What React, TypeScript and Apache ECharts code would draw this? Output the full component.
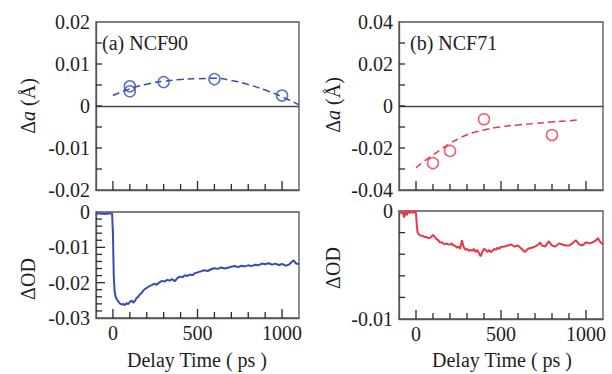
import React, { useEffect, useRef } from "react";
import * as echarts from "echarts";

// ---------- data ----------
// (a) NCF90 lattice change
const ncf90PtsT = [100, 100, 300, 600, 1000];
const ncf90PtsV = [0.0047, 0.0035, 0.0057, 0.0064, 0.0025];
const ncf90FitT = [0, 100, 200, 300, 400, 500, 600, 700, 800, 900, 1000, 1100];
const ncf90FitV = [0.0025, 0.0041, 0.0052, 0.0059, 0.0063, 0.0065, 0.0066, 0.0061, 0.0051, 0.0038, 0.0022, 0.0003];

// (b) NCF71 lattice change
const ncf71PtsT = [100, 200, 400, 800];
const ncf71PtsV = [-0.0272, -0.0214, -0.0063, -0.0138];
const ncf71FitT = [0, 50, 100, 150, 200, 250, 300, 350, 400, 500, 600, 700, 800, 900, 950];
const ncf71FitV = [-0.0294, -0.0262, -0.0233, -0.0205, -0.0178, -0.0156, -0.0137, -0.0124, -0.0114, -0.0099, -0.009, -0.0083, -0.0076, -0.007, -0.0067];

// NCF90 ΔOD trace (values in 1e-4)
const odA_t = [-100, -90, -80, -70, -60, -50, -40, -30, -20, -10, -5, 0, 5, 10, 15, 20, 30, 40, 50, 60, 70, 80, 90, 100, 110, 120, 130, 140, 150, 160, 170, 180, 190, 200, 215, 230, 245, 260, 275, 290, 305, 320, 335, 350, 365, 380, 395, 410, 425, 440, 455, 470, 485, 500, 520, 540, 560, 580, 600, 620, 640, 660, 680, 700, 720, 740, 760, 780, 800, 820, 840, 860, 880, 900, 920, 940, 960, 980, 1000, 1020, 1040, 1060, 1070, 1080, 1100];
const odA_v = [-4, -5, -3, -5, -4, -6, -4, -5, -3, -5, -4, -60, -180, -225, -238, -244, -252, -258, -262, -260, -264, -258, -261, -255, -250, -257, -252, -243, -240, -233, -229, -222, -218, -215, -210, -207, -203, -206, -199, -195, -197, -192, -194, -190, -196, -188, -183, -185, -179, -181, -177, -179, -173, -171, -168, -165, -167, -162, -159, -161, -157, -160, -158, -155, -153, -156, -152, -154, -151, -153, -149, -151, -146, -148, -145, -149, -146, -150, -147, -152, -149, -140, -137, -145, -148];

// NCF71 ΔOD trace (values in 1e-4)
const odB_t = [-100, -95, -90, -85, -80, -75, -70, -65, -60, -55, -50, -45, -40, -35, -30, -25, -20, -15, -10, -5, 0, 5, 10, 20, 30, 40, 50, 60, 70, 80, 90, 100, 110, 120, 130, 140, 150, 160, 170, 180, 190, 200, 210, 220, 230, 240, 250, 260, 270, 280, 290, 300, 310, 320, 330, 340, 350, 360, 370, 380, 390, 400, 410, 420, 430, 440, 450, 460, 470, 480, 490, 500, 520, 540, 560, 580, 600, 620, 640, 660, 680, 700, 720, 730, 740, 760, 780, 800, 820, 840, 860, 880, 900, 920, 940, 960, 980, 1000, 1020, 1040, 1060, 1070, 1080, 1100];
const odB_v = [-1, 0, -2, -1, -3, -1, -6, -2, -1, -4, -2, 0, -1, -2, -1, 0, -1, -2, -1, 0, -2, -14, -20, -22, -23, -23, -24, -24, -25, -25, -24, -22, -24, -26, -27, -29, -29, -30, -31, -30, -31, -31, -30, -32, -32, -34, -33, -35, -27, -33, -36, -35, -37, -36, -37, -35, -38, -36, -39, -42, -38, -35, -36, -38, -36, -38, -37, -35, -36, -34, -35, -33, -33, -32, -31, -33, -32, -35, -38, -35, -34, -33, -31, -29, -32, -33, -28, -32, -33, -30, -31, -32, -32, -30, -27, -31, -32, -29, -30, -29, -27, -25, -28, -31];

// tick labels
const xTickLabels = [0, 500, 1000];
const yLabelsTL = [-0.02, -0.01, 0, 0.01, 0.02];
const yLabelsTR = [-0.04, -0.02, 0, 0.02, 0.04];
const yLabelsBL = [-0.03, -0.02, -0.01, 0];
const yLabelsBR = [-0.01, 0];

// tick mark positions
const xTicks = [0, 100, 200, 300, 400, 500, 600, 700, 800, 900, 1000];
const yTicksTL = [-0.015, -0.01, -0.005, 0, 0.005, 0.01, 0.015];
const yTicksTR = [-0.03, -0.02, -0.01, 0, 0.01, 0.02, 0.03];
const yTicksBL = [-0.028, -0.026, -0.024, -0.022, -0.02, -0.018, -0.016, -0.014, -0.012, -0.01, -0.008, -0.006, -0.004, -0.002];
const yTicksBR = [-0.008, -0.006, -0.004, -0.002];

const BLUE = "#3a4cb2";
const RED = "#e8384a";
const FONT = "Liberation Serif";
const TXT = "#1e1e1e";
const FRAME = "#555";
const TICK = "#2a2a2a";

const pairs = (t: number[], v: number[], k = 1) => t.map((x, i) => [x, v[i] * k]);

const near = (v: number, list: number[]) => list.some((l) => Math.abs(l - v) < 1e-7);
const fmt = (v: number) => {
  const r = Math.round(v * 1000) / 1000;
  return r === 0 ? "0" : String(r);
};

export default function App() {
  const ref = useRef<HTMLDivElement>(null);
  useEffect(() => {
    if (!ref.current) return;
    const chart = echarts.init(ref.current, null, { renderer: "svg" });

    const grids = [
      { left: 96, top: 22, width: 203, height: 168 },
      { left: 96, top: 212, width: 203, height: 106 },
      { left: 399, top: 22, width: 204, height: 168 },
      { left: 399, top: 211, width: 204, height: 108 },
    ].map((g) => ({ ...g, show: true, borderColor: FRAME, borderWidth: 1.3 }));

    const axLine = { show: true, onZero: false, lineStyle: { color: FRAME, width: 1.3 } };

    const xAxes: any[] = [0, 1, 2, 3].map((gi) => ({
      type: "value",
      gridIndex: gi,
      min: -100,
      max: 1100,
      interval: 100,
      axisLine: axLine,
      splitLine: { show: false },
      axisTick: { show: false },
      axisLabel: {
        show: gi === 1 || gi === 3,
        margin: 5,
        fontFamily: FONT,
        fontSize: 20,
        color: TXT,
        formatter: (v: number) => (near(v, xTickLabels) ? String(v) : ""),
      },
    }));

    const yBase = (gi: number, min: number, max: number, interval: number, labels: number[]) => ({
      type: "value",
      gridIndex: gi,
      min,
      max,
      interval,
      axisLine: axLine,
      splitLine: { show: false },
      axisTick: { show: false },
      axisLabel: {
        margin: 6,
        fontFamily: FONT,
        fontSize: 20,
        color: TXT,
        formatter: (v: number) => (near(v, labels) ? fmt(v) : ""),
      },
    });

    const yAxes: any[] = [
      yBase(0, -0.02, 0.02, 0.005, yLabelsTL),
      yBase(1, -0.03, 0, 0.002, yLabelsBL),
      yBase(2, -0.04, 0.04, 0.01, yLabelsTR),
      yBase(3, -0.01, 0, 0.002, yLabelsBR),
    ];

    // tick marks drawn through the axes' own scales
    const tickSeries = (idx: number, yMin: number, yTicks: number[], yMajor: number[]) => [
      {
        type: "custom",
        xAxisIndex: idx,
        yAxisIndex: idx,
        silent: true,
        clip: false,
        z: 5,
        data: xTicks.map((v) => [v, yMin, near(v, xTickLabels) ? 1 : 0]),
        renderItem: (_p: any, api: any) => {
          const p = api.coord([api.value(0), api.value(1)]);
          const len = api.value(2) ? 9 : 6;
          return { type: "line", shape: { x1: p[0], y1: p[1], x2: p[0], y2: p[1] - len }, style: { stroke: TICK, lineWidth: 1.3 } };
        },
      },
      {
        type: "custom",
        xAxisIndex: idx,
        yAxisIndex: idx,
        silent: true,
        clip: false,
        z: 5,
        data: yTicks.map((v) => [-100, v, near(v, yMajor) ? 1 : 0]),
        renderItem: (_p: any, api: any) => {
          const p = api.coord([api.value(0), api.value(1)]);
          const len = api.value(2) ? 9 : 6;
          return { type: "line", shape: { x1: p[0], y1: p[1], x2: p[0] + len, y2: p[1] }, style: { stroke: TICK, lineWidth: 1.3 } };
        },
      },
    ];

    const zeroLine = {
      silent: true,
      symbol: "none",
      label: { show: false },
      lineStyle: { color: "#444", type: "solid", width: 1.3 },
      data: [{ yAxis: 0 }],
    };

    const circles = (color: string) => ({
      symbol: "circle",
      symbolSize: 11,
      itemStyle: { color: "rgba(0,0,0,0)", borderColor: color, borderWidth: 1.5 },
    });

    const series: any[] = [
      {
        type: "line",
        xAxisIndex: 0,
        yAxisIndex: 0,
        data: pairs(ncf90FitT, ncf90FitV),
        smooth: true,
        showSymbol: false,
        lineStyle: { color: BLUE, width: 1.5, type: [7, 4] },
        markLine: zeroLine,
      },
      { type: "scatter", xAxisIndex: 0, yAxisIndex: 0, data: pairs(ncf90PtsT, ncf90PtsV), ...circles(BLUE) },
      {
        type: "line",
        xAxisIndex: 1,
        yAxisIndex: 1,
        data: pairs(odA_t, odA_v, 1e-4),
        showSymbol: false,
        lineStyle: { color: BLUE, width: 2 },
      },
      {
        type: "line",
        xAxisIndex: 2,
        yAxisIndex: 2,
        data: pairs(ncf71FitT, ncf71FitV),
        smooth: true,
        showSymbol: false,
        lineStyle: { color: RED, width: 1.5, type: [7, 4] },
        markLine: zeroLine,
      },
      { type: "scatter", xAxisIndex: 2, yAxisIndex: 2, data: pairs(ncf71PtsT, ncf71PtsV), ...circles(RED) },
      {
        type: "line",
        xAxisIndex: 3,
        yAxisIndex: 3,
        data: pairs(odB_t, odB_v, 1e-4),
        showSymbol: false,
        lineStyle: { color: RED, width: 2 },
      },
      ...tickSeries(0, -0.02, yTicksTL, []),
      ...tickSeries(1, -0.03, yTicksBL, yLabelsBL),
      ...tickSeries(2, -0.04, yTicksTR, []),
      ...tickSeries(3, -0.01, yTicksBR, []),
    ];

    const rich = {
      n: { fontFamily: FONT, fontSize: 20, fill: TXT },
      i: { fontFamily: FONT, fontSize: 20, fontStyle: "italic", fill: TXT },
    };
    const yName = (x: number, y: number, text: string) => ({
      type: "text",
      x,
      y,
      rotation: Math.PI / 2,
      style: { text, fontFamily: FONT, fontSize: 20, fill: TXT, align: "center", verticalAlign: "middle", rich },
    });
    const plain = (x: number, y: number, text: string, align = "left") => ({
      type: "text",
      x,
      y,
      style: { text, fontFamily: FONT, fontSize: 20, fill: TXT, align, verticalAlign: "middle" },
    });

    chart.setOption({
      animation: false,
      grid: grids,
      xAxis: xAxes,
      yAxis: yAxes,
      series,
      graphic: [
        yName(28, 106, "{n|Δ}{i|a}{n| (Å)}"),
        yName(333, 105, "{n|Δ}{i|a}{n| (Å)}"),
        yName(28, 279, "ΔOD"),
        yName(333, 268, "ΔOD"),
        plain(102, 43, "(a) NCF90"),
        plain(410, 43, "(b) NCF71"),
        plain(197, 360, "Delay Time ( ps )", "center"),
        plain(502, 360, "Delay Time ( ps )", "center"),
      ],
    });
    return () => chart.dispose();
  }, []);
  return <div ref={ref} style={{ position: "absolute", left: 0, top: 0, width: 612, height: 374 }} />;
}
